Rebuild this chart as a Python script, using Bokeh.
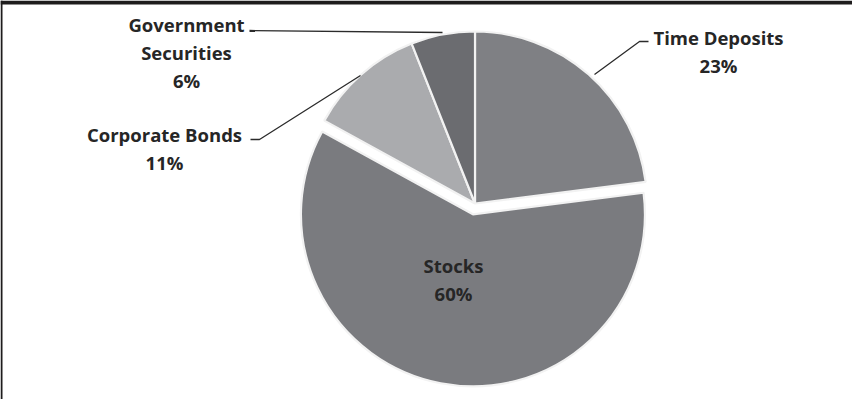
import math
from bokeh.plotting import figure
from bokeh.models import Range1d
from bokeh.embed import file_html
from bokeh.resources import INLINE
from bokeh.core.properties import value

# ---- data ----
categories = ["Time Deposits", "Stocks", "Corporate Bonds", "Government Securities"]
shares = [23, 60, 11, 6]
name_lines = [["Time Deposits"], ["Stocks"], ["Corporate Bonds"], ["Government", "Securities"]]

# ---- style / layout ----
colors = ["#7f8084", "#7a7b7f", "#aaabae", "#6b6c70"]
explode = [0, 11, 0, 0]
W, H = 852, 399
PAGE_H = 415


def sy(y):
    # screen y (page pixels, down) -> data y (up)
    return PAGE_H - y


cx, cy, R = 482.5, sy(211), 172

label_pos = [(726, 45), (461, 273), (172, 142), (194, 32)]
line_gap = 28
leaders = [
    [(602, 82), (647, 49), (656, 49)],
    None,
    [(368, 83), (267, 147), (258, 147)],
    [(450, 40), (257, 38)],
]

p = figure(width=W, height=H, output_backend="svg", toolbar_location=None,
           x_range=Range1d(8, 8 + W), y_range=Range1d(PAGE_H - 8 - H, PAGE_H - 8),
           min_border=0, outline_line_color=None)
p.axis.visible = False
p.grid.visible = False
p.background_fill_color = "white"
p.border_fill_color = "white"

total = sum(shares)
cum = 0
for i, v in enumerate(shares):
    a0 = math.radians(90 - cum / total * 360)
    cum += v
    a1 = math.radians(90 - cum / total * 360)
    mid = (a0 + a1) / 2
    ox = cx + explode[i] * math.cos(mid)
    oy = cy + explode[i] * math.sin(mid)
    p.wedge(x=[ox], y=[oy], radius=R, start_angle=a0, end_angle=a1,
            direction="clock", fill_color=colors[i], line_color="#f2f2f2",
            line_width=2.2)

# leader lines
for pts in leaders:
    if pts is None:
        continue
    p.line([q[0] for q in pts], [sy(q[1]) for q in pts], line_color="#2b2b2b",
           line_width=1.3)

# labels
tx, ty, tt = [], [], []
for i, v in enumerate(shares):
    lines = name_lines[i] + [f"{v}%"]
    x0, y0 = label_pos[i]
    for k, s in enumerate(lines):
        tx.append(x0)
        ty.append(sy(y0 + k * line_gap))
        tt.append(s)
p.text(x=tx, y=ty, text=tt, text_align="center", text_baseline="middle",
       text_font=value("Open Sans"), text_font_style="bold", text_font_size="18.5px",
       text_color="#262626")

# frame (top and left rules of the original box)
p.quad(left=[8], right=[8 + W], bottom=[sy(12)], top=[sy(8)],
       fill_color="#1e1c1d", line_color=None)
p.quad(left=[8], right=[10], bottom=[sy(8 + H)], top=[sy(8)],
       fill_color="#1e1c1d", line_color=None)

open("out.html", "w").write(file_html(p, INLINE))
